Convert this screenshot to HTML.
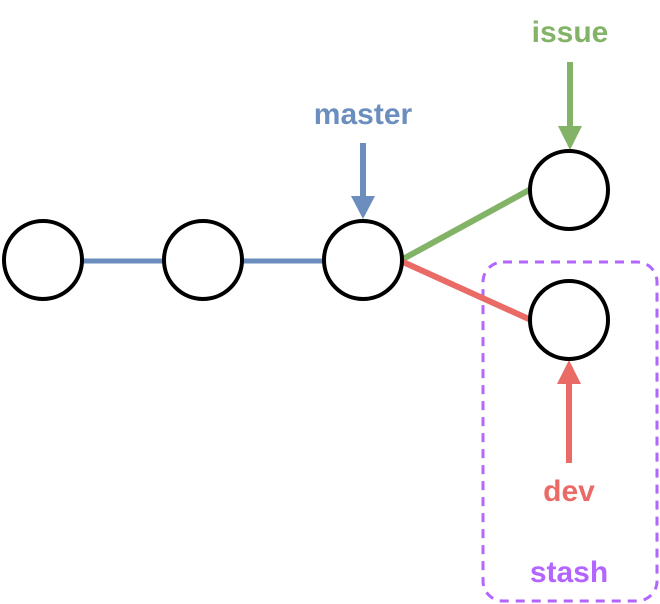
<!DOCTYPE html>
<html><head><meta charset="utf-8"><style>
html,body{margin:0;padding:0;background:#fff;width:660px;height:604px;overflow:hidden}
text{font-family:"Liberation Sans",sans-serif;font-weight:bold;font-size:30px;text-anchor:middle}
</style></head><body>
<svg width="660" height="604" viewBox="0 0 660 604" xmlns="http://www.w3.org/2000/svg">
<rect x="483" y="262" width="174" height="339" rx="20" fill="none" stroke="#b266ff" stroke-width="3" stroke-dasharray="9,7"/>
<line x1="83" y1="261" x2="163" y2="261" stroke="#6c8ebf" stroke-width="5"/>
<line x1="243" y1="261" x2="323" y2="261" stroke="#6c8ebf" stroke-width="5"/>
<line x1="403" y1="259" x2="531" y2="189" stroke="#82b366" stroke-width="6"/>
<line x1="403" y1="262" x2="531" y2="320" stroke="#ea6b66" stroke-width="6"/>
<line x1="363" y1="143" x2="363" y2="198" stroke="#6c8ebf" stroke-width="6"/>
<polygon points="351,196 375,196 363,219" fill="#6c8ebf"/>
<line x1="570" y1="62" x2="570" y2="128" stroke="#82b366" stroke-width="6"/>
<polygon points="558,126 582,126 570,150" fill="#82b366"/>
<line x1="569" y1="463" x2="569" y2="382" stroke="#ea6b66" stroke-width="6"/>
<polygon points="557,384 581,384 569,360" fill="#ea6b66"/>
<g fill="#fff" stroke="#000" stroke-width="4">
<circle cx="43" cy="260" r="39"/>
<circle cx="203" cy="260" r="39"/>
<circle cx="363" cy="260" r="39"/>
<circle cx="569" cy="190" r="39"/>
<circle cx="569" cy="320" r="39"/>
</g>
<text x="363" y="124" fill="#6c8ebf">master</text>
<text x="570" y="42" fill="#82b366">issue</text>
<text x="569" y="501" fill="#ea6b66">dev</text>
<text x="569" y="582" fill="#b266ff">stash</text>
</svg>
</body></html>
